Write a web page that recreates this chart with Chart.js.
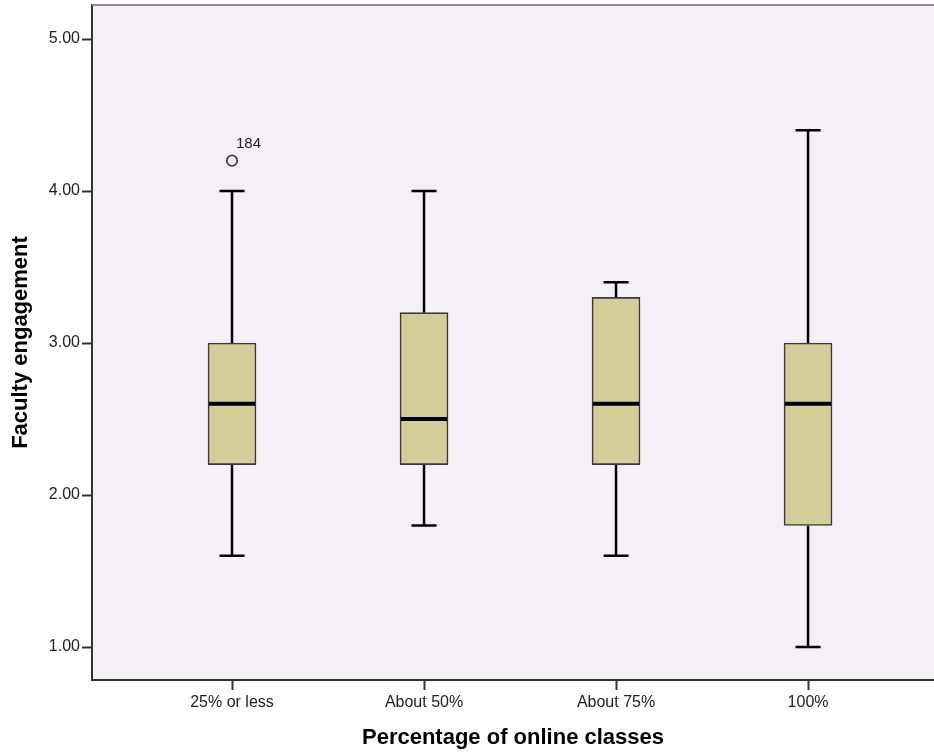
<!DOCTYPE html>
<html>
<head>
<meta charset="utf-8">
<script src="https://cdn.jsdelivr.net/npm/chart.js@4/dist/chart.umd.min.js"></script>
<style>
  html, body { margin: 0; padding: 0; background: #ffffff; overflow: hidden; }
  #wrap { width: 934px; height: 752px; }
</style>
</head>
<body>
<div id="wrap"><canvas id="c" width="934" height="752"></canvas></div>
<script>
// ---- data ----
const categories   = ['25% or less', 'About 50%', 'About 75%', '100%'];
const whiskerLow   = [1.6, 1.8, 1.6, 1.0];
const q1           = [2.2, 2.2, 2.2, 1.8];
const median       = [2.6, 2.5, 2.6, 2.6];
const q3           = [3.0, 3.2, 3.3, 3.0];
const whiskerHigh  = [4.0, 4.0, 3.4, 4.4];
const outliers     = [[4.2], [], [], []];
const outlierIds   = [['184'], [], [], []];
const yTickValues  = [1, 2, 3, 4, 5];
const xTitle = 'Percentage of online classes';
const yTitle = 'Faculty engagement';

const FONT = "'Liberation Sans', Arial, sans-serif";

const boxPlugin = {
  id: 'boxExtras',
  beforeDraw(chart) {
    const { ctx, chartArea: a } = chart;
    ctx.save();
    ctx.fillStyle = '#F5F0F5';
    ctx.fillRect(a.left, a.top, a.right - a.left, a.bottom - a.top);
    ctx.restore();
  },
  beforeDatasetsDraw(chart) {
    const { ctx, scales: { x, y } } = chart;
    ctx.save();
    ctx.strokeStyle = '#000';
    ctx.lineWidth = 2.5;
    categories.forEach((c, i) => {
      const cx = x.getPixelForValue(i + 1);
      ctx.beginPath();
      ctx.moveTo(cx, y.getPixelForValue(whiskerHigh[i]));
      ctx.lineTo(cx, y.getPixelForValue(q3[i]));
      ctx.moveTo(cx, y.getPixelForValue(q1[i]));
      ctx.lineTo(cx, y.getPixelForValue(whiskerLow[i]));
      ctx.stroke();
    });
    ctx.restore();
  },
  afterDatasetsDraw(chart) {
    const { ctx, scales: { x, y }, chartArea: a } = chart;
    ctx.save();
    const capHalf = 12.5, boxHalf = 24;
    categories.forEach((c, i) => {
      const cx = x.getPixelForValue(i + 1);
      ctx.strokeStyle = '#000';
      ctx.lineWidth = 2.5;
      ctx.beginPath();
      [whiskerHigh[i], whiskerLow[i]].forEach(v => {
        const py = y.getPixelForValue(v);
        ctx.moveTo(cx - capHalf, py);
        ctx.lineTo(cx + capHalf, py);
      });
      ctx.stroke();
      ctx.lineWidth = 4;
      ctx.beginPath();
      const my = y.getPixelForValue(median[i]);
      ctx.moveTo(cx - boxHalf + 1, my);
      ctx.lineTo(cx + boxHalf - 1, my);
      ctx.stroke();
      outliers[i].forEach((v, k) => {
        const py = y.getPixelForValue(v);
        ctx.beginPath();
        ctx.arc(cx, py, 5.2, 0, Math.PI * 2);
        ctx.fillStyle = '#F5F0F5';
        ctx.fill();
        ctx.strokeStyle = '#444';
        ctx.lineWidth = 1.8;
        ctx.stroke();
        ctx.fillStyle = '#222';
        ctx.font = '15px ' + FONT;
        ctx.textAlign = 'left';
        ctx.textBaseline = 'alphabetic';
        ctx.fillText(outlierIds[i][k], cx + 4, py - 13);
      });
    });
    ctx.strokeStyle = '#888';
    ctx.lineWidth = 2;
    ctx.beginPath();
    ctx.moveTo(a.left, a.top);
    ctx.lineTo(a.right, a.top);
    ctx.stroke();
    ctx.restore();
  }
};

new Chart(document.getElementById('c'), {
  type: 'bar',
  data: {
    datasets: [{
      data: categories.map((c, i) => ({ x: i + 1, y: [q1[i], q3[i]] })),
      backgroundColor: '#D3CE97',
      borderColor: '#3a3a3a',
      borderWidth: 1.6,
      borderSkipped: false,
      barThickness: 48
    }]
  },
  options: {
    responsive: false,
    animation: false,
    devicePixelRatio: 1,
    layout: { padding: { top: 5, left: 0, right: 0, bottom: 0 } },
    plugins: { legend: { display: false }, tooltip: { enabled: false } },
    scales: {
      x: {
        type: 'linear',
        offset: false,
        min: 0.2708,
        max: 4.656,
        afterBuildTicks: s => { s.ticks = categories.map((c, i) => ({ value: i + 1 })); },
        afterFit: s => { s.height = 72; s.paddingLeft = 0; s.paddingRight = 0; },
        ticks: {
          autoSkip: false, maxRotation: 0, padding: 3,
          color: '#222', font: { family: FONT, size: 16 },
          callback: v => categories[v - 1]
        },
        grid: { offset: false, drawOnChartArea: false, drawTicks: true, tickLength: 10, tickColor: '#333', tickWidth: 2 },
        border: { display: true, color: '#333', width: 2 },
        title: { display: true, text: xTitle, color: '#000', font: { family: FONT, size: 22, weight: 'bold' }, padding: { top: 0, bottom: 1 } }
      },
      y: {
        type: 'linear',
        min: 0.783,
        max: 5.224,
        afterBuildTicks: s => { s.ticks = yTickValues.map(v => ({ value: v })); },
        afterFit: s => { s.width = 92; s.paddingTop = 0; s.paddingBottom = 0; },
        ticks: {
          padding: 2, color: '#222', font: { family: FONT, size: 16 },
          callback: v => Number(v).toFixed(2)
        },
        grid: { drawOnChartArea: false, drawTicks: true, tickLength: 10, tickColor: '#333', tickWidth: 2 },
        border: { display: true, color: '#333', width: 2 },
        title: { display: true, text: yTitle, color: '#000', font: { family: FONT, size: 22, weight: 'bold' }, padding: { top: 8, bottom: 0 } }
      }
    }
  },
  plugins: [boxPlugin]
});
</script>
</body>
</html>
